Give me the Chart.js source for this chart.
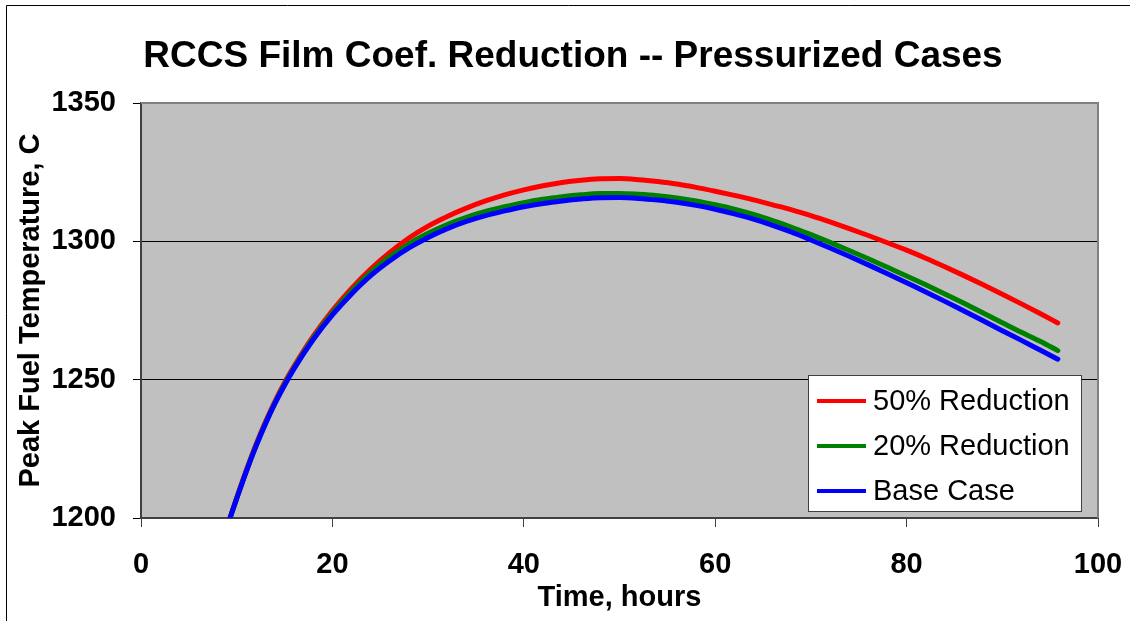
<!DOCTYPE html>
<html>
<head>
<meta charset="utf-8">
<script src="https://cdn.jsdelivr.net/npm/chart.js@4.4.1/dist/chart.umd.min.js"></script>
<style>
  html, body { margin: 0; padding: 0; background: #fff; }
  canvas { display: block; }
</style>
</head>
<body>
<canvas id="chartRccs" width="1135" height="621"></canvas>
<script>
// Waktu (jam) dan suhu puncak bahan bakar (C) untuk tiap kasus
const timeHours = [9.3, 10, 11, 12, 13, 14, 15, 16, 18, 20, 22, 24, 26, 28, 30, 32, 34, 36, 38, 40,
    42, 44, 46, 48, 50, 52, 54, 56, 58, 60, 62, 64, 66, 68, 70, 72, 74, 76, 78, 80,
    82, 84, 86, 88, 90, 92, 94, 95.8];

const reduction50 = [1200, 1207.3, 1217.2, 1226.4, 1234.7, 1242.2, 1248.9, 1254.9, 1265.7, 1275,
    1283, 1290, 1296, 1301.2, 1305.5, 1309, 1312, 1314.6, 1316.8, 1318.6,
    1320.1, 1321.3, 1322.1, 1322.6, 1322.7, 1322.3, 1321.6, 1320.7, 1319.5, 1318.1,
    1316.6, 1315.0, 1313.2, 1311.4, 1309.3, 1307.0, 1304.6, 1302.1, 1299.5, 1296.8,
    1293.9, 1290.8, 1287.6, 1284.3, 1280.9, 1277.4, 1273.8, 1270.5];

const reduction20 = [1200, 1207.1, 1216.9, 1226, 1234.2, 1241.7, 1248.4, 1254.4, 1265.1, 1274.2,
    1282, 1288.8, 1294.4, 1299.1, 1302.9, 1306.1, 1308.7, 1310.8, 1312.5, 1314,
    1315.2, 1316.1, 1316.8, 1317.25, 1317.3, 1317.0, 1316.5, 1315.7, 1314.6, 1313.2,
    1311.6, 1309.7, 1307.5, 1305.1, 1302.4, 1299.6, 1296.7, 1293.7, 1290.6, 1287.5,
    1284.3, 1281.0, 1277.6, 1274.1, 1270.6, 1267.1, 1263.8, 1260.5];

const baseCase = [1200, 1207, 1216.8, 1225.8, 1234, 1241.4, 1248, 1254, 1264.5, 1273.4,
    1281, 1287.6, 1293, 1297.6, 1301.4, 1304.6, 1307.2, 1309.3, 1311, 1312.5,
    1313.7, 1314.6, 1315.3, 1315.75, 1315.8, 1315.5, 1314.9, 1314.1, 1313.0, 1311.6,
    1309.9, 1308.0, 1305.8, 1303.3, 1300.5, 1297.6, 1294.6, 1291.5, 1288.3, 1285.0,
    1281.7, 1278.3, 1274.8, 1271.3, 1267.7, 1264.2, 1260.6, 1257.4];

const seriesLabels = ['50% Reduction', '20% Reduction', 'Base Case'];
const seriesColors = ['#FF0000', '#008000', '#0000FF'];
const seriesValues = [reduction50, reduction20, baseCase];

const xTicks = [0, 20, 40, 60, 80, 100];
const yTicks = [1200, 1250, 1300, 1350];

const chartTitle = 'RCCS Film Coef. Reduction -- Pressurized Cases';
const FONT = '"Liberation Sans", Arial, sans-serif';

// Latar abu-abu area plot + bingkai luar halaman
const plotBackground = {
    id: 'plotBackground',
    beforeDraw(chart) {
        const { ctx, chartArea: a } = chart;
        ctx.save();
        ctx.fillStyle = '#C0C0C0';
        ctx.fillRect(a.left, a.top, a.right - a.left, a.bottom - a.top);
        ctx.strokeStyle = '#000';
        ctx.lineWidth = 1;
        ctx.beginPath();
        ctx.moveTo(6.5, 621);
        ctx.lineTo(6.5, 5.5);
        ctx.lineTo(1130, 5.5);
        ctx.stroke();
        ctx.restore();
    },
    afterDatasetsDraw(chart) {
        // bingkai kanan & atas area plot (abu-abu tua)
        const { ctx, chartArea: a } = chart;
        ctx.save();
        ctx.strokeStyle = '#808080';
        ctx.lineWidth = 2;
        ctx.beginPath();
        ctx.moveTo(a.left, a.top);
        ctx.lineTo(a.right, a.top);
        ctx.lineTo(a.right, a.bottom);
        ctx.stroke();
        ctx.restore();
    }
};

// Judul utama
const mainTitle = {
    id: 'mainTitle',
    afterDraw(chart) {
        const { ctx } = chart;
        ctx.save();
        ctx.font = `bold 37px ${FONT}`;
        ctx.fillStyle = '#000';
        ctx.textAlign = 'center';
        ctx.textBaseline = 'alphabetic';
        ctx.fillText(chartTitle, 573, 67);
        ctx.restore();
    }
};

// Legenda kotak putih di pojok kanan bawah area plot
const boxLegend = {
    id: 'boxLegend',
    afterDraw(chart) {
        const { ctx } = chart;
        const bx = 808, by = 375, bw = 273, bh = 136;
        ctx.save();
        ctx.fillStyle = '#fff';
        ctx.fillRect(bx, by, bw, bh);
        ctx.strokeStyle = '#404040';
        ctx.lineWidth = 1;
        ctx.strokeRect(bx + 0.5, by + 0.5, bw, bh);
        ctx.font = `29px ${FONT}`;
        ctx.textAlign = 'left';
        ctx.textBaseline = 'alphabetic';
        chart.data.datasets.forEach((ds, i) => {
            const cy = 401 + i * 45;
            ctx.strokeStyle = ds.borderColor;
            ctx.lineWidth = 4;
            ctx.beginPath();
            ctx.moveTo(817, cy);
            ctx.lineTo(866, cy);
            ctx.stroke();
            ctx.fillStyle = '#000';
            ctx.fillText(ds.label, 873, cy + 9);
        });
        ctx.restore();
    }
};

const datasets = seriesLabels.map((label, i) => ({
    label: label,
    data: timeHours.map((t, j) => ({ x: t, y: seriesValues[i][j] })),
    borderColor: seriesColors[i],
    backgroundColor: seriesColors[i],
    borderWidth: 5,
    borderCapStyle: 'round',
    borderJoinStyle: 'round',
    pointRadius: 0,
    cubicInterpolationMode: 'monotone',
    order: seriesLabels.length - 1 - i
}));

new Chart(document.getElementById('chartRccs'), {
    type: 'line',
    data: { datasets: datasets },
    plugins: [plotBackground, mainTitle, boxLegend],
    options: {
        responsive: false,
        animation: false,
        layout: { padding: { left: 6, top: 103, right: 37, bottom: 0 } },
        plugins: {
            legend: { display: false },
            tooltip: { enabled: false },
            title: { display: false }
        },
        scales: {
            x: {
                type: 'linear',
                min: 0,
                max: 100,
                afterBuildTicks: (s) => { s.ticks = xTicks.map(v => ({ value: v })); },
                afterFit: (s) => {
                    s.height = 103;
                    s.paddingLeft = 0;
                    s.paddingRight = 0;
                },
                ticks: {
                    color: '#000',
                    padding: 21,
                    font: { family: FONT, size: 29, weight: 'bold' },
                    callback: (v) => String(v)
                },
                grid: {
                    drawOnChartArea: false,
                    drawTicks: true,
                    tickLength: 9,
                    tickColor: '#404040'
                },
                border: { color: '#404040', width: 2 },
                title: {
                    display: true,
                    text: 'Time, hours',
                    color: '#000',
                    font: { family: FONT, size: 29, weight: 'bold' },
                    padding: { top: 0, bottom: 6 }
                }
            },
            y: {
                type: 'linear',
                min: 1200,
                max: 1350,
                afterBuildTicks: (s) => { s.ticks = yTicks.map(v => ({ value: v })); },
                afterFit: (s) => {
                    s.width = 135;
                    s.paddingTop = 0;
                    s.paddingBottom = 0;
                },
                ticks: {
                    color: '#000',
                    padding: 17,
                    font: { family: FONT, size: 29, weight: 'bold' },
                    callback: (v) => String(v)
                },
                grid: {
                    color: (c) => (c.tick && c.tick.value === 1350 ? '#808080' : '#000'),
                    lineWidth: 1,
                    drawTicks: true,
                    tickLength: 8,
                    tickColor: '#000'
                },
                border: { color: '#404040', width: 2 },
                title: {
                    display: true,
                    text: 'Peak Fuel Temperature, C',
                    color: '#000',
                    font: { family: FONT, size: 29, weight: 'bold' },
                    padding: { top: 8, bottom: 0 }
                }
            }
        }
    }
});
</script>
</body>
</html>
